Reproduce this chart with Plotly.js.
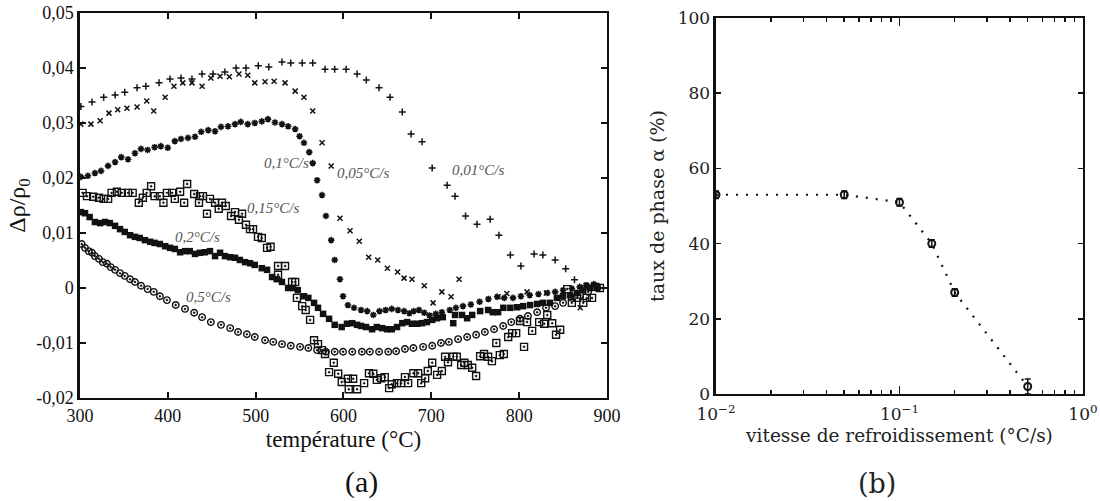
<!DOCTYPE html>
<html>
<head>
<meta charset="utf-8">
<script src="https://cdn.plot.ly/plotly-3.0.1.min.js"></script>
<style>html,body{margin:0;padding:0;background:#fff;}#chart{width:1100px;height:501px;}</style>
</head>
<body>
<div id="chart"></div>
<script>
// ---------- (a) resistivity curves ----------
const t001 = [301,313.7,327,340,351,365,375,390,402.5,415,427.5,439,451.5,465,477.7,489,503,515,530,540,553,565,579,590,603,615.5,626,640.5,653,667,677,689.5,701,718,727,739,752,767,777,790,802,817,827,841,853,863,875];
const r001 = [0.033,0.0338,0.0347,0.0351,0.0356,0.0364,0.0367,0.0373,0.038,0.0382,0.038,0.0389,0.0389,0.0393,0.04,0.04,0.0404,0.0402,0.0411,0.0409,0.0409,0.0409,0.0398,0.0398,0.0398,0.0389,0.0378,0.0364,0.0347,0.032,0.028,0.0266,0.0218,0.0187,0.0167,0.0131,0.0116,0.0125,0.0096,0.006,0.004,0.0062,0.006,0.0051,0.0035,0.0015,0.0004];

const t005 = [301,312.5,323,333,343,353.5,365,376,384,397,407,417,427.5,439,449,459.5,470,481,491,499,510.7,521,533.5,545,555,565,575.6,586,596,607.5,618,628.7,639,650,661.6,669,678,692,702,712,722.5,731.6,776,786,809,831,869.5,876];
const r005 = [0.0298,0.0298,0.0304,0.0318,0.0324,0.0327,0.0329,0.034,0.0322,0.0347,0.0367,0.0373,0.0373,0.0367,0.0382,0.0385,0.0384,0.0389,0.0387,0.0373,0.0375,0.0376,0.0373,0.0358,0.0347,0.0322,0.0264,0.0222,0.0127,0.0104,0.0085,0.0056,0.0051,0.0036,0.0029,0.0018,0.0016,0.0004,-0.0027,-0.0007,-0.0016,0.0016,-0.0016,-0.001,-0.0007,-0.0009,-0.0036,0.0004];

const t01 = [301,309,317,324,332,340,347,354.7,362.6,369.5,377,385,392,400,408,415,423,431,438,446,453.8,460.6,468.6,476.5,483,491,499,507,514,522,530,537,545,550,555,561,565,570,575.6,580,586,590,596,599.5,605,612,620,627,634,641,648,655,662,669,675,680,686,692,698,705,712,721,728,736,745,755,765,775,783,793,802,812,822,832,841,850,860,869,877,885];
const r01 = [0.0202,0.0204,0.0209,0.0213,0.0222,0.0229,0.0238,0.0234,0.0245,0.0253,0.0251,0.0256,0.0258,0.0255,0.0267,0.0271,0.0273,0.0275,0.0284,0.0287,0.0285,0.0293,0.0294,0.0298,0.0302,0.0298,0.030,0.0303,0.0307,0.0301,0.0298,0.0294,0.0289,0.0276,0.0264,0.0247,0.0227,0.0196,0.0169,0.0131,0.0087,0.0051,0.0016,-0.0015,-0.0031,-0.0036,-0.004,-0.0042,-0.0049,-0.0042,-0.004,-0.0038,-0.004,-0.0042,-0.0046,-0.0042,-0.004,-0.0045,-0.005,-0.0047,-0.0044,-0.004,-0.0036,-0.0033,-0.003,-0.0025,-0.002,-0.0016,-0.0018,-0.0018,-0.0015,-0.0013,-0.0011,-0.0009,-0.0007,-0.0004,-0.0001,0.0002,0.0005,0.0007];

const t015 = [303,308,315,321.6,327,332,336,342,347.6,354.7,360,367,371.6,376,381,385,391,395,399,405,408,414,418.6,422,430,436.7,435.5,440,444.6,448,453.8,458,461.7,466,472,476.5,481,484.5,489,493.6,497,502.7,507,513,517,525.5,533.5,525.5,541.5,545,547,553,557,562,566.5,571,575.6,579,589,583.6,594,598,605,611,606,615.5,623.5,629,634,638,643,647,652,655,661,665.6,670,673.6,679.6,685,688.5,693,696,701,706.6,712,715.7,719,725,729,734,737.6,741.6,746.5,751,755.6,760,764.7,769,778,782.6,774,787.5,792,796.6,801,805.6,809,814.8,822.8,828.5,832,837.6,842,846.7,854.7,860,866,873,877,883,886.6,892];
const r015 = [0.0173,0.0167,0.0166,0.0164,0.0162,0.0162,0.0173,0.0175,0.0173,0.0173,0.0173,0.0155,0.0164,0.0173,0.0185,0.0167,0.0167,0.0155,0.0173,0.0173,0.0162,0.0175,0.0155,0.0189,0.0171,0.0167,0.0155,0.0167,0.0135,0.0162,0.0155,0.0144,0.0155,0.0149,0.0131,0.0138,0.0124,0.0135,0.0115,0.0107,0.0107,0.0093,0.0091,0.0073,0.0075,0.004,0.004,0.0024,0.0011,0.0011,-0.0018,-0.0033,-0.004,-0.0058,-0.0095,-0.0102,-0.0113,-0.012,-0.0136,-0.0153,-0.0156,-0.0171,-0.0165,-0.0165,-0.0184,-0.0184,-0.0173,-0.0155,-0.0156,-0.0167,-0.0164,-0.0162,-0.0182,-0.0175,-0.0173,-0.0173,-0.0162,-0.0173,-0.0155,-0.0155,-0.0173,-0.0164,-0.0151,-0.0136,-0.0158,-0.0151,-0.0125,-0.0135,-0.0125,-0.0125,-0.014,-0.0136,-0.014,-0.0145,-0.016,-0.0124,-0.012,-0.0125,-0.0133,-0.0122,-0.012,-0.01,-0.0089,-0.0082,-0.0082,-0.006,-0.0107,-0.0062,-0.0078,-0.0062,-0.0065,-0.0049,-0.0064,-0.0085,-0.0076,-0.0002,-0.0027,-0.0018,-0.0027,-0.0018,-0.0018,0.0002,0.0];

const t02 = [301,305.7,311,317,323,328.5,334,340,345.6,351,357,362.6,368,374,380,385,391,397,402.5,408,414,419.6,425,431,436.7,442,448,453.8,459.5,465,471,476.5,482,488,493.6,499,507,513,518.7,524,530,537,542.6,548,555,560,566.5,571,576.8,583.6,590,598,604,610,615.5,620,625.7,632.6,638,644,649.7,655,661,667,672.4,678,684,689.5,695,701,706.6,713,725,727,735,740.8,746.5,755.6,764.7,770,776,782,790,797.7,804.6,812.5,820.5,827,835,843,850,858,866,873,881,889];
const r02 = [0.0138,0.0136,0.0129,0.012,0.0118,0.012,0.0118,0.0113,0.0107,0.0102,0.0096,0.0093,0.0091,0.0087,0.0084,0.0082,0.008,0.0076,0.0073,0.0071,0.0065,0.0067,0.0067,0.0062,0.0064,0.0065,0.0067,0.0058,0.0064,0.0058,0.0056,0.0055,0.0051,0.0047,0.0045,0.0042,0.0036,0.0033,0.002,0.0016,0.0011,0.0,0.0,-0.0004,-0.0015,-0.0018,-0.0027,-0.0036,-0.0047,-0.0056,-0.0067,-0.0071,-0.0065,-0.0064,-0.0067,-0.0069,-0.0071,-0.0075,-0.0071,-0.0073,-0.0075,-0.0075,-0.0071,-0.0064,-0.0062,-0.0065,-0.0065,-0.0064,-0.0062,-0.0058,-0.0055,-0.0053,-0.0064,-0.0049,-0.0049,-0.0055,-0.0049,-0.0042,-0.004,-0.0044,-0.0044,-0.0036,-0.0036,-0.0035,-0.0033,-0.0031,-0.0029,-0.0027,-0.0027,-0.0018,-0.0015,-0.0013,-0.0009,-0.0004,0.0,0.0002];

const t05 = [302,305.7,310,313.7,317,321.6,326,330.8,335,340,345.6,351,357,362.6,369.5,377,384,391,399,409,419.6,430,439,449,460.6,471,480,490,499,510.7,520,530,540,550.6,560,570,580,590,599.5,610,621,630,640.5,651,660,670,679.6,690.7,701,711,720,730.5,740.8,751,761,771.5,781.8,791,801,810,820.5,830.6,841,850,860,869.5,878.6,889];
const r05 = [0.008,0.0073,0.0067,0.0064,0.0058,0.0053,0.0047,0.0044,0.0038,0.0033,0.0027,0.0022,0.0016,0.0011,0.0004,-0.0002,-0.0007,-0.0015,-0.0022,-0.0031,-0.0038,-0.0045,-0.0053,-0.0062,-0.0067,-0.0073,-0.008,-0.0084,-0.0089,-0.0095,-0.0098,-0.0102,-0.0105,-0.0107,-0.0109,-0.0113,-0.0116,-0.0116,-0.0116,-0.0116,-0.0116,-0.0116,-0.0116,-0.0116,-0.0115,-0.0111,-0.0109,-0.0107,-0.0105,-0.01,-0.0098,-0.0093,-0.0089,-0.0085,-0.008,-0.0075,-0.0069,-0.0062,-0.0056,-0.0051,-0.0044,-0.0036,-0.0033,-0.0027,-0.0018,-0.0013,-0.0007,0.0];

const labelsA = ['0,01°C/s','0,05°C/s','0,1°C/s','0,15°C/s','0,2°C/s','0,5°C/s'];
const labelX = [753, 622, 535, 520, 434, 446];
const labelY = [0.0215, 0.0209, 0.0227, 0.0145, 0.0093, -0.0016];

const yTickVals = [-0.02,-0.01,0,0.01,0.02,0.03,0.04,0.05];
const yTickText = ['-0,02','-0,01','0','0,01','0,02','0,03','0,04','0,05'];

// ---------- (b) phase fraction ----------
const rate = [0.01, 0.05, 0.1, 0.15, 0.2, 0.5];
const phase = [53, 53, 51, 40, 27, 2];
const phaseErr = [1, 1, 1, 1, 1, 2];
const xbTickVals = [0.01, 0.1, 1];
const xbTickText = ['10<sup>−2</sup>','10<sup>−1</sup>','10<sup>0</sup>'];
const xbMinor = [0.02,0.03,0.04,0.05,0.06,0.07,0.08,0.09,0.2,0.3,0.4,0.5,0.6,0.7,0.8,0.9];

const serifA = 'Liberation Serif';
const serifB = 'DejaVu Serif';

function sc(x, y, sym, size, lw) {
  return {x: x, y: y, type: 'scatter', mode: 'markers', xaxis: 'x', yaxis: 'y', showlegend: false,
    marker: {symbol: sym, size: size, color: '#111', line: {color: '#111', width: lw}}, cliponaxis: true};
}

const traces = [
  sc(t001, r001, 'cross-thin', 5, 1.5),
  sc(t005, r005, 'x-thin', 5, 1.5),
  sc(t01, r01, 'asterisk-open', 5.5, 1.6),
  sc(t015, r015, 'square-open-dot', 7, 1.4),
  sc(t02, r02, 'square', 6.5, 0),
  sc(t05, r05, 'circle-open-dot', 6.5, 1.4),
  {x: rate, y: phase, type: 'scatter', mode: 'lines+markers', xaxis: 'x2', yaxis: 'y2', showlegend: false,
   line: {color: '#111', width: 2.2, dash: '2px,8px'},
   marker: {symbol: 'circle-open', size: 7, color: '#111', line: {color: '#111', width: 2}},
   error_y: {type: 'data', array: phaseErr, visible: true, color: '#111', thickness: 1.5, width: 3}}
];

const annotations = labelsA.map((t, i) => ({
  x: labelX[i], y: labelY[i], xref: 'x', yref: 'y', text: '<i>' + t + '</i>', showarrow: false,
  font: {family: serifA, size: 15, color: '#555'}
}));
annotations.push({x: 0.312, y: 0.0, xref: 'paper', yref: 'paper', yanchor: 'bottom', text: '(a)', showarrow: false,
  font: {family: serifA, size: 30, color: '#111'}});
annotations.push({x: 0.816, y: 0.0, xref: 'paper', yref: 'paper', yanchor: 'bottom', text: '(b)', showarrow: false,
  font: {family: serifB, size: 27, color: '#222'}});

const layout = {
  width: 1100, height: 501,
  margin: {l: 0, r: 0, t: 0, b: 0},
  paper_bgcolor: '#fff', plot_bgcolor: '#fff',
  showlegend: false,
  xaxis: {domain: [0.0727, 0.5518], range: [300, 900], dtick: 100, tick0: 300,
    showline: true, linecolor: '#111', linewidth: 2.5, mirror: 'ticks',
    ticks: 'inside', ticklen: 6, tickwidth: 2, tickcolor: '#111', showgrid: false, zeroline: false,
    tickfont: {family: serifA, size: 18, color: '#111'},
    title: {text: 'température (°C)', font: {family: serifA, size: 23, color: '#111'}, standoff: 6},
    anchor: 'y'},
  yaxis: {domain: [0.2056, 0.974], range: [-0.02, 0.05], tickvals: yTickVals, ticktext: yTickText,
    showline: true, linecolor: '#111', linewidth: 2.5, mirror: 'ticks',
    ticks: 'inside', ticklen: 6, tickwidth: 2, tickcolor: '#111', showgrid: false, zeroline: false,
    tickfont: {family: serifA, size: 18, color: '#111'},
    title: {text: 'Δρ/ρ<sub>0</sub>', font: {family: serifA, size: 24, color: '#111'}, standoff: 4},
    anchor: 'x'},
  xaxis2: {domain: [0.6509, 0.9845], type: 'log', range: [-2, 0],
    tickmode: 'array', tickvals: xbTickVals, ticktext: xbTickText,
    minor: {tickmode: 'array', tickvals: xbMinor, ticks: 'inside', ticklen: 4, tickwidth: 1.5, tickcolor: '#111', showgrid: false},
    showline: true, linecolor: '#111', linewidth: 2.5, mirror: 'ticks',
    ticks: 'inside', ticklen: 8, tickwidth: 1.5, tickcolor: '#111', showgrid: false, zeroline: false,
    ticklabelstandoff: 3,
    tickfont: {family: serifB, size: 17, color: '#222'},
    title: {text: 'vitesse de refroidissement (°C/s)', font: {family: serifB, size: 18.5, color: '#222'}, standoff: 6},
    anchor: 'y2'},
  yaxis2: {domain: [0.2136, 0.964], range: [0, 100], dtick: 20,
    showline: true, linecolor: '#111', linewidth: 2.5, mirror: 'ticks',
    ticks: 'inside', ticklen: 5, tickwidth: 1.5, tickcolor: '#111', showgrid: false, zeroline: false,
    tickfont: {family: serifB, size: 17, color: '#222'},
    title: {text: 'taux de phase α (%)', font: {family: serifB, size: 19, color: '#222'}, standoff: 8},
    anchor: 'x2'},
  annotations: annotations
};

Plotly.newPlot('chart', traces, layout, {staticPlot: true, displayModeBar: false});
</script>
</body>
</html>
